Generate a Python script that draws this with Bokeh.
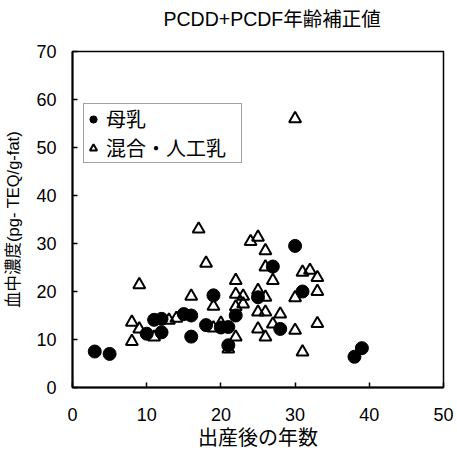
from bokeh.plotting import figure
from bokeh.models import Legend, LegendItem, Range1d, FixedTicker, Title
from bokeh.embed import file_html
from bokeh.resources import INLINE

# 母乳 (breast milk)
bm_x = [3, 5, 10, 11, 12, 12, 15, 16, 16, 18, 19, 20, 21, 21, 22, 25, 27, 28, 30, 31, 38, 39]
bm_y = [7.5, 7.0, 11.2, 14.1, 14.3, 11.5, 15.3, 15.0, 10.6, 13.0, 19.2, 12.5, 12.6, 8.8, 15.0, 18.8, 25.2, 12.2, 29.5, 20.0, 6.4, 8.2]

# 混合・人工乳 (mixed / formula)
mx_x = [8, 9, 8, 9, 11, 13, 14, 16, 17, 18, 19, 19, 20, 21, 22, 22, 22, 22, 23, 23, 24, 25, 25, 25, 25,
        26, 26, 26, 26, 26, 27, 27, 28, 30, 30, 30, 31, 31, 32, 33, 33, 33]
mx_y = [13.6, 12.2, 9.6, 21.4, 10.5, 14.0, 14.4, 19.0, 33.0, 25.9, 16.9, 12.4, 13.4, 8.0, 22.3, 19.4, 16.8, 10.5, 19.0, 17.4, 30.4, 31.3, 20.2, 15.7, 12.2,
        28.5, 25.1, 18.8, 15.7, 10.5, 22.3, 13.2, 15.3, 56.0, 18.7, 11.9, 24.0, 7.4, 24.4, 22.9, 20.0, 13.3]

x_ticks = [0, 10, 20, 30, 40, 50]
y_ticks = [0, 10, 20, 30, 40, 50, 60, 70]

title_text = "PCDD+PCDF年齢補正値"
x_label = "出産後の年数"
y_label = "血中濃度(pg- TEQ/g-fat)"
series_names = ["母乳", "混合・人工乳"]

FONT = "Liberation Sans, Arial, 'Noto Sans CJK JP', sans-serif"

p = figure(width=457, height=455, output_backend="svg", toolbar_location=None,
           x_range=Range1d(0, 50), y_range=Range1d(0, 70),
           min_border_left=72, min_border_right=14, min_border_top=51, min_border_bottom=68)
p.title = None
t = Title(text=title_text + "\n", align="left", offset=91, text_font=FONT,
          text_font_size="19.5px", text_font_style="normal", text_color="black",
          vertical_align="bottom", standoff=0, text_line_height=1.0)
p.add_layout(t, "above")

p.xgrid.visible = False
p.ygrid.visible = False
p.background_fill_color = "white"
p.border_fill_color = "white"
p.outline_line_color = "black"
p.outline_line_width = 1.5

for ax in (p.xaxis[0], p.yaxis[0]):
    ax.axis_line_color = "black"
    ax.axis_line_width = 2
    ax.major_tick_in = 5
    ax.major_tick_out = 0
    ax.major_tick_line_width = 1.5
    ax.minor_tick_line_color = None
    ax.major_label_text_font = FONT
    ax.major_label_text_font_size = "18px"
    ax.major_label_text_color = "black"
    ax.axis_label_text_font = FONT
    ax.axis_label_text_font_style = "normal"
    ax.axis_label_text_color = "black"

p.xaxis.ticker = FixedTicker(ticks=x_ticks)
p.yaxis.ticker = FixedTicker(ticks=y_ticks)
p.xaxis.major_label_standoff = 20
p.yaxis.major_label_standoff = 16
p.xaxis.axis_label = x_label
p.xaxis.axis_label_text_font_size = "20px"
p.xaxis.axis_label_standoff = 3
p.yaxis.axis_label = y_label
p.yaxis.axis_label_text_font_size = "16.5px"
p.yaxis.axis_label_standoff = 11

r_mx = p.scatter(mx_x, mx_y, marker="triangle", size=12, fill_color=None,
                 line_color="black", line_width=2)
r_bm = p.scatter(bm_x, bm_y, marker="circle", size=13, fill_color="black",
                 line_color="black", line_width=1)

legend = Legend(items=[LegendItem(label=series_names[0], renderers=[r_bm]),
                       LegendItem(label=series_names[1], renderers=[r_mx])],
                location=(11, 224), orientation="vertical",
                label_text_font=FONT, label_text_font_size="20px",
                label_text_color="black",
                label_height=26, glyph_height=26, glyph_width=18, label_width=135,
                label_standoff=4, spacing=0, padding=0, margin=0,
                border_line_color="#444444", border_line_width=1,
                background_fill_color="white", background_fill_alpha=1)
p.add_layout(legend, "center")

open("out.html", "w").write(file_html(p, INLINE))
